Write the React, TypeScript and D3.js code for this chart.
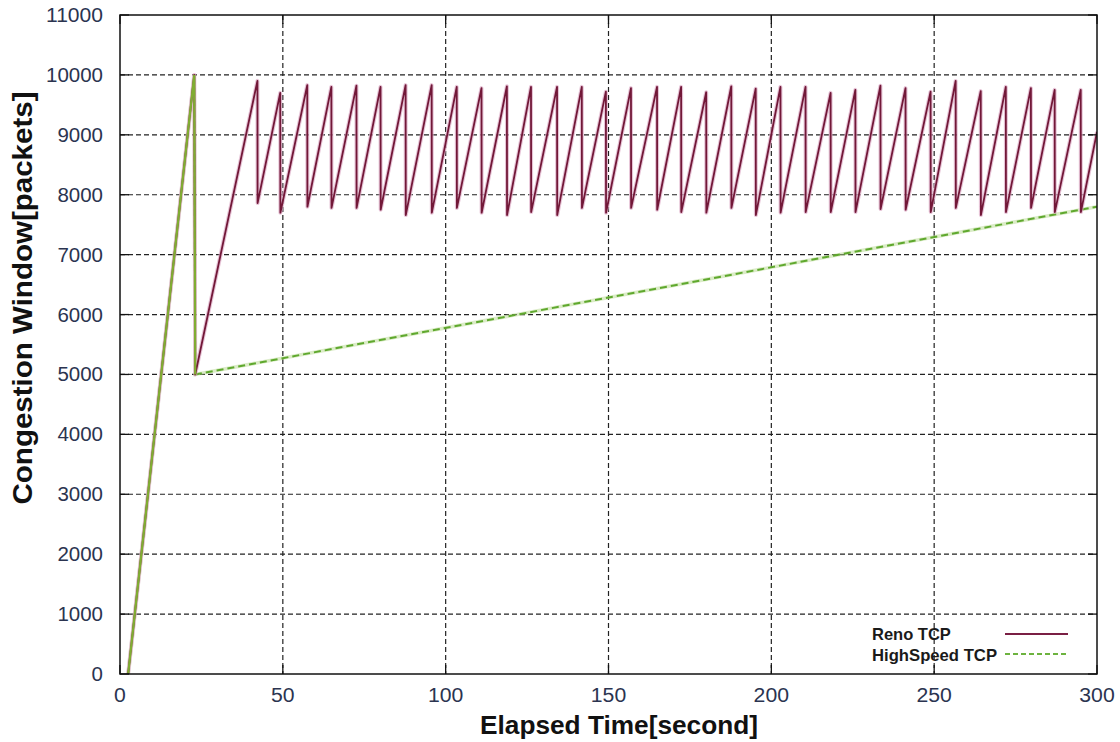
import React from 'react';
import * as d3 from 'd3';

// Reno TCP sawtooth (time in s, window in packets)
const renoStart = [[2.5, 0], [22.8, 10000], [23.1, 5000]];
const renoPeakTimes = [42.2, 49.2, 57.5, 64.9, 72.6, 80, 87.7, 95.7, 103.4, 111, 118.8, 126.2, 134.2, 141.8, 149.2, 156.9, 164.9, 172.3, 180, 187.7, 195.2, 202.8, 210.5, 218.2, 225.8, 233.5, 241.2, 248.9, 256.6, 264.3, 272, 279.7, 287, 295];
const renoPeaks = [9900, 9700, 9830, 9800, 9820, 9800, 9830, 9830, 9800, 9780, 9810, 9800, 9800, 9800, 9720, 9780, 9800, 9800, 9710, 9810, 9770, 9800, 9800, 9700, 9750, 9820, 9780, 9720, 9900, 9730, 9800, 9780, 9750, 9750];
const renoTroughs = [7860, 7700, 7800, 7780, 7780, 7750, 7660, 7700, 7780, 7700, 7660, 7710, 7660, 7780, 7700, 7780, 7750, 7710, 7700, 7780, 7660, 7700, 7710, 7710, 7710, 7760, 7750, 7710, 7780, 7660, 7710, 7780, 7710, 7710];
const renoEnd = [300, 9050];

// HighSpeed TCP
const hsTimes = [2.5, 22.8, 23.1, 300];
const hsValues = [0, 10000, 5000, 7800];

const xTicks = [0, 50, 100, 150, 200, 250, 300];
const yTicks = [0, 1000, 2000, 3000, 4000, 5000, 6000, 7000, 8000, 9000, 10000, 11000];

const W = 1120;
const H = 742;
const left = 120, right = 1097, top = 15, bottom = 674;

export default function App() {
  const x = d3.scaleLinear().domain([0, 300]).range([left, right]);
  const y = d3.scaleLinear().domain([0, 11000]).range([bottom, top]);

  const reno: [number, number][] = renoStart.map(d => [d[0], d[1]] as [number, number]);
  renoPeakTimes.forEach((t, i) => {
    reno.push([t, renoPeaks[i]]);
    reno.push([t + 0.05, renoTroughs[i]]);
  });
  reno.push([renoEnd[0], renoEnd[1]]);

  const hs: [number, number][] = hsTimes.map((t, i) => [t, hsValues[i]]);

  const line = d3.line<[number, number]>().x(d => x(d[0])).y(d => y(d[1]));

  const tickColor = '#2b3450';
  const font = 'Liberation Sans, Arial, sans-serif';

  return (
    <svg width={W} height={H} style={{ position: 'absolute', left: 0, top: 0, background: '#fff' }}>
      <defs>
        <clipPath id="plot">
          <rect x={left} y={top} width={right - left} height={bottom - top} />
        </clipPath>
      </defs>
      <rect width={W} height={H} fill="#fff" />

      {/* grid */}
      <g stroke="#222" strokeWidth={1.2} strokeDasharray="5,3">
        {yTicks.slice(1, -1).map(v => (
          <line key={'gy' + v} x1={left} x2={right} y1={y(v)} y2={y(v)} />
        ))}
        {xTicks.slice(1, -1).map(v => (
          <line key={'gx' + v} x1={x(v)} x2={x(v)} y1={top} y2={bottom} />
        ))}
      </g>

      {/* series */}
      <g clipPath="url(#plot)" fill="none">
        <path d={line(hs) || ''} stroke="#b7d98f" strokeWidth={3.5} opacity={0.5} />
        <path d={line(hs) || ''} stroke="#5fa82e" strokeWidth={2} strokeDasharray="7,4" />
        <path d={line(reno) || ''} stroke="#dcaac4" strokeWidth={4} opacity={0.7} strokeLinejoin="round" />
        <path d={line(reno) || ''} stroke="#721838" strokeWidth={1.8} strokeLinejoin="round" />
        <path d={line(hs.slice(0, 3)) || ''} stroke="#80ad32" strokeWidth={2.2} />
      </g>

      {/* frame and ticks */}
      <rect x={left} y={top} width={right - left} height={bottom - top} fill="none" stroke="#111" strokeWidth={1.5} />
      <g stroke="#111" strokeWidth={1.3}>
        {yTicks.map(v => (
          <g key={'ty' + v}>
            <line x1={left} x2={left + 9} y1={y(v)} y2={y(v)} />
            <line x1={right - 9} x2={right} y1={y(v)} y2={y(v)} />
          </g>
        ))}
        {xTicks.map(v => (
          <g key={'tx' + v}>
            <line x1={x(v)} x2={x(v)} y1={bottom} y2={bottom - 9} />
            <line x1={x(v)} x2={x(v)} y1={top} y2={top + 9} />
          </g>
        ))}
      </g>

      {/* tick labels */}
      <g fontFamily={font} fontSize={19.5} fill={tickColor}>
        {yTicks.map(v => (
          <text key={'ly' + v} x={103} y={y(v)} dy="0.36em" textAnchor="end"
            textLength={String(v).length * 11.4} lengthAdjust="spacingAndGlyphs">{v}</text>
        ))}
        {xTicks.map(v => (
          <text key={'lx' + v} x={x(v)} y={702} textAnchor="middle"
            textLength={String(v).length * 11.8} lengthAdjust="spacingAndGlyphs">{v}</text>
        ))}
      </g>

      {/* axis titles */}
      <text x={619} y={734} textAnchor="middle" fontFamily={font} fontWeight="bold" fontSize={25} fill="#111"
        textLength={278} lengthAdjust="spacingAndGlyphs">
        Elapsed Time[second]
      </text>
      <text transform={`translate(32,298) rotate(-90)`} textAnchor="middle" fontFamily={font} fontWeight="bold" fontSize={27} fill="#111"
        textLength={413} lengthAdjust="spacingAndGlyphs">
        Congestion Window[packets]
      </text>

      {/* legend */}
      <g fontFamily={font} fontWeight="bold" fontSize={16.5} fill="#1a1a1a">
        <text x={872} y={640}>Reno TCP</text>
        <text x={872} y={661} textLength={125} lengthAdjust="spacingAndGlyphs">HighSpeed TCP</text>
      </g>
      <line x1={1005} x2={1068} y1={634} y2={634} stroke="#7a1f44" strokeWidth={1.8} />
      <line x1={1005} x2={1068} y1={654} y2={654} stroke="#6db33f" strokeWidth={1.8} strokeDasharray="5,3" />
    </svg>
  );
}
